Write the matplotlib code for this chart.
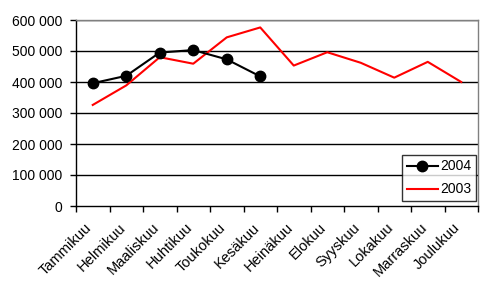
import numpy as np
import matplotlib.pyplot as plt
import matplotlib.transforms as mtransforms

plt.rcParams['font.family'] = ['Liberation Sans', 'DejaVu Sans']

months = ['Tammikuu', 'Helmikuu', 'Maaliskuu', 'Huhtikuu', 'Toukokuu', 'Kesäkuu',
          'Heinäkuu', 'Elokuu', 'Syyskuu', 'Lokakuu', 'Marraskuu', 'Joulukuu']
y2004 = [396000, 420000, 495000, 503000, 473000, 418000]
y2003 = [326000, 389000, 480000, 459000, 544000, 576000,
         453000, 496000, 462000, 414000, 465000, 400000]
yticks = [0, 100000, 200000, 300000, 400000, 500000, 600000]
ylabels = ['0', '100 000', '200 000', '300 000', '400 000', '500 000', '600 000']

fig = plt.figure(figsize=(4.97, 2.90), dpi=100)
ax = fig.add_axes([76 / 497, 1 - 206 / 290, 402 / 497, 186 / 290])

x = np.arange(len(months))
ax.plot(x[:len(y2004)], y2004, color='black', lw=1.5, marker='o', ms=7.5, label='2004', zorder=4)
ax.plot(x, y2003, color='#ff0000', lw=1.5, label='2003', zorder=3)

ax.set_xlim(-0.5, 11.5)
ax.set_ylim(0, 600000)
ax.set_yticks(yticks)
ax.set_yticklabels(ylabels, fontsize=10)
for v in yticks[1:]:
    ax.axhline(v, color='black', lw=1, zorder=1)

ax.set_xticks(np.arange(-0.5, 12, 1))
ax.set_xticklabels([])
ax.set_xticks(x, minor=True)
ax.set_xticklabels(months, minor=True, rotation=45, ha='right', rotation_mode='anchor', fontsize=10.5)
ax.tick_params(axis='x', which='minor', length=0, pad=6)
ax.tick_params(axis='both', which='major', length=4, width=1, color='black', direction='out')
ax.tick_params(axis='y', pad=6)

# nudge rotated month labels down-left like the original
shift = mtransforms.ScaledTranslation(-8 / 100, -6 / 100, fig.dpi_scale_trans)
for lab in ax.get_xticklabels(minor=True):
    lab.set_transform(lab.get_transform() + shift)

ax.spines['left'].set_color('black')
ax.spines['bottom'].set_color('black')
ax.spines['top'].set_color('#808080')
ax.spines['right'].set_color('#808080')
for s in ax.spines.values():
    s.set_linewidth(1)

leg = ax.legend(loc='lower right', bbox_to_anchor=(0.995, 0.027), fontsize=10, frameon=True,
                fancybox=False, edgecolor='black', handlelength=2.2, borderpad=0.33,
                labelspacing=0.65, handletextpad=0.2, borderaxespad=0.0)
leg.get_frame().set_linewidth(1)

fig.savefig('out.png', dpi=100)
